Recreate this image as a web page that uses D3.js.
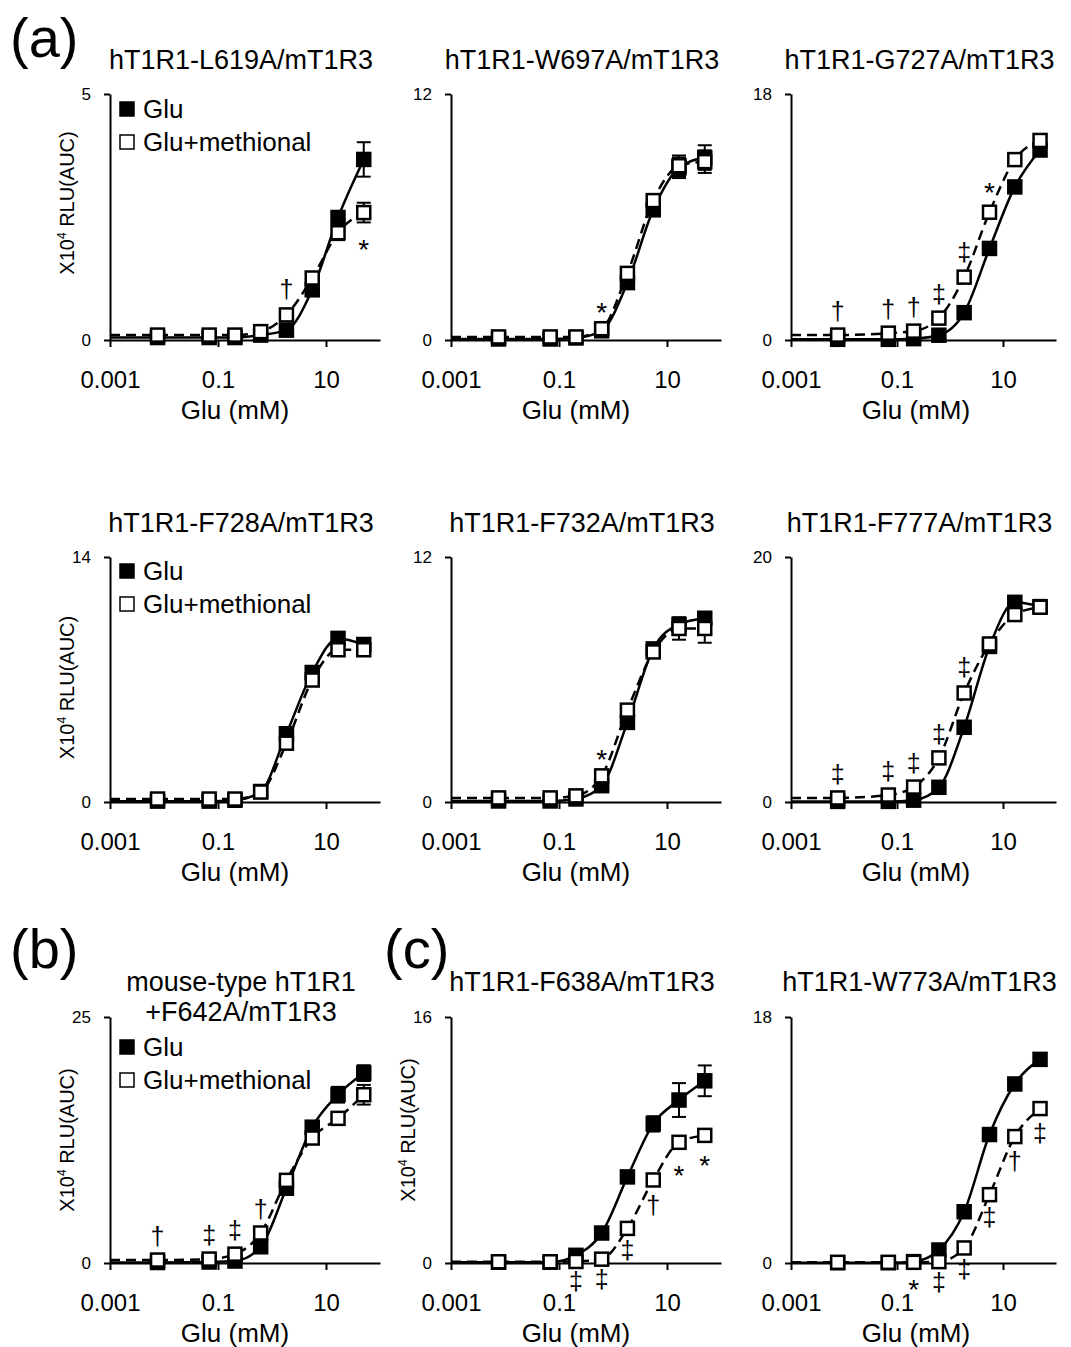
<!DOCTYPE html>
<html>
<head>
<meta charset="utf-8">
<script src="https://cdn.jsdelivr.net/npm/d3@7"></script>
<style>
  body { margin: 0; background: #fff; }
  text { font-family: "Liberation Sans", Arial, sans-serif; fill: #000; }
</style>
</head>
<body>
<svg id="fig" width="1071" height="1347"></svg>
<script>
// Glu concentrations (mM) used in every panel
const conc = [0.0076, 0.0686, 0.206, 0.617, 1.85, 5.56, 16.7, 50];
const xTicks = [0.001, 0.1, 10];
const xDomain = [0.001, 100];

const titles = [
  ["hT1R1-L619A/mT1R3"], ["hT1R1-W697A/mT1R3"], ["hT1R1-G727A/mT1R3"],
  ["hT1R1-F728A/mT1R3"], ["hT1R1-F732A/mT1R3"], ["hT1R1-F777A/mT1R3"],
  ["mouse-type hT1R1", "+F642A/mT1R3"], ["hT1R1-F638A/mT1R3"], ["hT1R1-W773A/mT1R3"]
];
const yMax = [5, 12, 18, 14, 12, 20, 25, 16, 18];

// x10^4 RLU(AUC), Glu alone
const gluMean = [
  [0.05, 0.05, 0.05, 0.1, 0.2, 1.02, 2.49, 3.67],
  [0.05, 0.05, 0.1, 0.45, 2.8, 6.35, 8.4, 8.9],
  [0.05, 0.05, 0.1, 0.35, 2.0, 6.7, 11.2, 13.9],
  [0.05, 0.05, 0.1, 0.6, 3.9, 7.4, 9.35, 9.0],
  [0.05, 0.05, 0.15, 0.8, 3.9, 7.5, 8.7, 9.0],
  [0.05, 0.05, 0.15, 1.2, 6.1, 12.7, 16.3, 15.95],
  [0.05, 0.1, 0.2, 1.65, 7.6, 13.8, 17.1, 19.3],
  [0.05, 0.05, 0.5, 1.95, 5.6, 9.05, 10.6, 11.85],
  [0.02, 0.02, 0.1, 0.95, 3.75, 9.4, 13.1, 14.9]
];
const gluErr = [
  [0, 0, 0, 0, 0.03, 0.05, 0.12, 0.35],
  [0, 0, 0, 0, 0.1, 0.3, 0.5, 0.6],
  [0, 0, 0, 0, 0.1, 0.2, 0.3, 0.3],
  [0, 0, 0, 0, 0.1, 0.2, 0.2, 0.2],
  [0, 0, 0, 0, 0.1, 0.2, 0.3, 0.3],
  [0, 0, 0, 0, 0.2, 0.2, 0.3, 0.3],
  [0, 0, 0, 0, 0.2, 0.4, 0.8, 0.8],
  [0, 0, 0, 0, 0.2, 0.5, 1.1, 1.0],
  [0, 0, 0, 0, 0.1, 0.2, 0.3, 0.3]
];
// Glu + methional
const methMean = [
  [0.1, 0.1, 0.1, 0.17, 0.51, 1.26, 2.18, 2.59],
  [0.15, 0.15, 0.15, 0.55, 3.25, 6.8, 8.5, 8.7],
  [0.36, 0.5, 0.65, 1.6, 4.6, 9.35, 13.2, 14.6],
  [0.17, 0.17, 0.17, 0.57, 3.36, 6.97, 8.7, 8.7],
  [0.2, 0.2, 0.3, 1.28, 4.5, 7.35, 8.5, 8.5],
  [0.33, 0.57, 1.22, 3.6, 8.9, 12.9, 15.3, 15.9],
  [0.3, 0.4, 0.9, 3.05, 8.4, 12.7, 14.7, 17.1],
  [0.08, 0.08, 0.1, 0.25, 2.25, 5.4, 7.85, 8.3],
  [0.05, 0.05, 0.05, 0.1, 1.1, 5.0, 9.25, 11.3]
];
const methErr = [
  [0, 0, 0, 0, 0.03, 0.05, 0.15, 0.2],
  [0, 0, 0, 0, 0.1, 0.3, 0.5, 0.55],
  [0, 0, 0, 0, 0.1, 0.2, 0.3, 0.4],
  [0, 0, 0, 0, 0.1, 0.2, 0.2, 0.2],
  [0, 0, 0, 0, 0.1, 0.2, 0.55, 0.7],
  [0, 0, 0, 0, 0.2, 0.2, 0.3, 0.3],
  [0, 0, 0, 0, 0.2, 0.4, 0.5, 1.0],
  [0, 0, 0, 0, 0.1, 0.3, 0.4, 0.2],
  [0, 0, 0, 0, 0.1, 0.2, 0.3, 0.3]
];
// significance marks: [concentration index, symbol, side of the methional point]
const sigMarks = [
  [[4, "†", "up"], [7, "*", "down"]],
  [[3, "*", "up"]],
  [[0, "†", "up"], [1, "†", "up"], [2, "†", "up"], [3, "‡", "up"], [4, "‡", "up"], [5, "*", "up"]],
  [],
  [[3, "*", "up"]],
  [[0, "‡", "up"], [1, "‡", "up"], [2, "‡", "up"], [3, "‡", "up"], [4, "‡", "up"]],
  [[0, "†", "up"], [1, "‡", "up"], [2, "‡", "up"], [3, "†", "up"]],
  [[2, "‡", "down"], [3, "‡", "down"], [4, "‡", "down"], [5, "†", "down"], [6, "*", "down"], [7, "*", "down"]],
  [[2, "*", "down"], [3, "‡", "down"], [4, "‡", "down"], [5, "‡", "down"], [6, "†", "down"], [7, "‡", "down"]]
];
const legendLabels = ["Glu", "Glu+methional"];
const panelLetters = ["(a)", "(b)", "(c)"];

// layout
const colX = [110, 451, 791];
const colW = [270, 270, 265];
const rowTop = [94, 557, 1017];
const rowBottom = [340, 802, 1263];
const titleBase = [69, 532, 991];
const legendPanels = {0: 15, 3: 14, 6: 30};
const yLabelPanels = {0: -14, 3: 8, 6: 0, 7: -10};

const svg = d3.select("#fig");

svg.append("text").attr("x", 10).attr("y", 57).style("font-size", "56px").text(panelLetters[0]);
svg.append("text").attr("x", 10).attr("y", 968).style("font-size", "56px").text(panelLetters[1]);
svg.append("text").attr("x", 384).attr("y", 968).style("font-size", "56px").text(panelLetters[2]);

titles.forEach(function (title, i) {
  const row = Math.floor(i / 3), col = i % 3;
  const x0 = colX[col], x1 = colX[col] + colW[col];
  const x = d3.scaleLog().domain(xDomain).range([x0, x1]);
  const y = d3.scaleLinear().domain([0, yMax[i]]).range([rowBottom[row], rowTop[row]]);
  const g = svg.append("g");

  // title
  title.forEach(function (t, k) {
    g.append("text")
      .attr("x", (x0 + x1) / 2 - 4)
      .attr("y", titleBase[row] + k * 30)
      .attr("text-anchor", "middle")
      .style("font-size", "27px")
      .text(t);
  });

  // axes
  const xAxis = g.append("g")
    .attr("transform", "translate(0," + rowBottom[row] + ")")
    .call(d3.axisBottom(x).tickValues(xTicks).tickFormat(d3.format("~g"))
      .tickSizeInner(7).tickSizeOuter(0).tickPadding(24));
  xAxis.selectAll("text").style("font-size", "24px");

  const yAxis = g.append("g")
    .attr("transform", "translate(" + x0 + ",0)")
    .call(d3.axisLeft(y).tickValues([0, yMax[i]]).tickFormat(d3.format("~g"))
      .tickSizeInner(6).tickSizeOuter(0).tickPadding(13));
  yAxis.selectAll("text").style("font-size", "17px");

  [xAxis, yAxis].forEach(function (a) {
    a.selectAll("path, line").attr("stroke", "#000").attr("stroke-width", 2);
  });

  g.append("text")
    .attr("x", x0 + 125)
    .attr("y", rowBottom[row] + 79)
    .attr("text-anchor", "middle")
    .style("font-size", "26px")
    .text("Glu (mM)");

  if (i in yLabelPanels) {
    const yc = (rowTop[row] + rowBottom[row]) / 2 + yLabelPanels[i];
    const lab = g.append("text")
      .attr("transform", "translate(" + (x0 - 36) + "," + yc + ") rotate(-90)")
      .attr("text-anchor", "middle")
      .style("font-size", "20px");
    lab.append("tspan").text("X10");
    lab.append("tspan").attr("dy", -8).style("font-size", "12px").text("4");
    lab.append("tspan").attr("dy", 8).text(" RLU(AUC)");
  }

  // smooth curves through the points, starting at the axis
  const line = d3.line()
    .x(d => x(d[0]))
    .y(d => y(d[1]))
    .curve(d3.curveMonotoneX);

  const series = [
    {mean: gluMean[i], err: gluErr[i], fill: "#000", dash: null},
    {mean: methMean[i], err: methErr[i], fill: "#fff", dash: "10,6"}
  ];

  series.forEach(function (s) {
    const pts = [[xDomain[0], s.mean[0]]].concat(conc.map((c, j) => [c, s.mean[j]]));
    g.append("path")
      .attr("d", line(pts))
      .attr("fill", "none")
      .attr("stroke", "#000")
      .attr("stroke-width", 2.5)
      .attr("stroke-dasharray", s.dash);
  });

  series.forEach(function (s) {
    const pts = conc.map((c, j) => ({c: c, m: s.mean[j], e: s.err[j]})).filter(d => d.e > 0);
    const eb = g.selectAll(null).data(pts).enter().append("g")
      .attr("stroke", "#000").attr("stroke-width", 2);
    eb.append("line")
      .attr("x1", d => x(d.c)).attr("x2", d => x(d.c))
      .attr("y1", d => y(d.m - d.e)).attr("y2", d => y(d.m + d.e));
    eb.append("line")
      .attr("x1", d => x(d.c) - 7).attr("x2", d => x(d.c) + 7)
      .attr("y1", d => y(d.m + d.e)).attr("y2", d => y(d.m + d.e));
    eb.append("line")
      .attr("x1", d => x(d.c) - 7).attr("x2", d => x(d.c) + 7)
      .attr("y1", d => y(d.m - d.e)).attr("y2", d => y(d.m - d.e));
  });

  const side = 13;
  series.forEach(function (s) {
    g.selectAll(null).data(conc.map((c, j) => [c, s.mean[j]])).enter().append("rect")
      .attr("x", d => x(d[0]) - side / 2)
      .attr("y", d => y(d[1]) - side / 2)
      .attr("width", side).attr("height", side)
      .attr("fill", s.fill).attr("stroke", "#000").attr("stroke-width", 2.5);
  });

  // significance symbols
  sigMarks[i].forEach(function (m) {
    const j = m[0], mean = methMean[i][j], err = methErr[i][j];
    const center = m[2] === "up"
      ? y(mean + err) - 22
      : Math.max(y(mean - err), y(mean)) + 22;
    const star = m[1] === "*";
    g.append("text")
      .attr("x", x(conc[j]))
      .attr("y", center + (star ? 15 : 7))
      .attr("text-anchor", "middle")
      .style("font-size", star ? "28px" : "25px")
      .style("fill", "#000")
      .text(m[1]);
  });

  // legend
  if (i in legendPanels) {
    const ly = rowTop[row] + legendPanels[i];
    [0, 1].forEach(function (k) {
      g.append("rect")
        .attr("x", x0 + 10).attr("y", ly + k * 33 - 7)
        .attr("width", 14).attr("height", 14)
        .attr("fill", k === 0 ? "#000" : "#fff")
        .attr("stroke", "#000").attr("stroke-width", 1.5);
      g.append("text")
        .attr("x", x0 + 33).attr("y", ly + k * 33 + 9)
        .style("font-size", "26px")
        .text(legendLabels[k]);
    });
  }
});
</script>
</body>
</html>
